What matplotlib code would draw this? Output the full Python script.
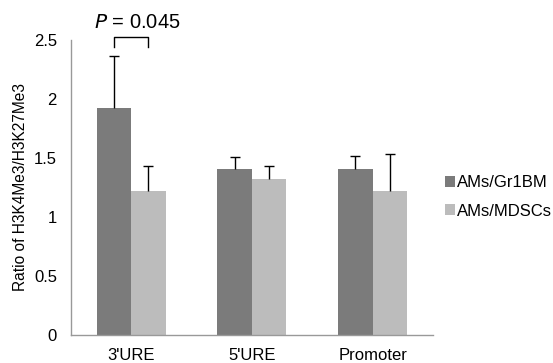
import matplotlib
matplotlib.use("Agg")
import matplotlib.pyplot as plt
import numpy as np

plt.rcParams['font.family'] = ['Liberation Sans', 'DejaVu Sans']

categories = ["3'URE", "5'URE", "Promoter"]
series_names = ["AMs/Gr1BM", "AMs/MDSCs"]
gr1bm = [1.92, 1.41, 1.41]
gr1bm_err = [0.44, 0.10, 0.11]
mdscs = [1.22, 1.32, 1.22]
mdscs_err = [0.21, 0.11, 0.31]
colors = ["#7b7b7b", "#bcbcbc"]

fig = plt.figure(figsize=(5.53, 3.63), dpi=100)
ax = fig.add_axes([0.128, 0.077, 0.655, 0.813])
x = np.arange(len(categories))
w = 0.286

for off, vals, errs, col, name in [(-w/2, gr1bm, gr1bm_err, colors[0], series_names[0]),
                                   (w/2, mdscs, mdscs_err, colors[1], series_names[1])]:
    vals = np.array(vals); errs = np.array(errs)
    ax.bar(x + off, vals, w, color=col, label=name, zorder=2)
    ax.errorbar(x + off, vals, yerr=[np.zeros(3), errs], fmt='none', ecolor='black',
                elinewidth=1.0, capsize=0, zorder=3)
    ax.plot(x + off, vals + errs, linestyle='none', marker='_', markersize=7.5,
            markeredgewidth=1.0, color='black', zorder=3)

ax.set_xlim(-0.5, 2.5)
ax.set_ylim(0, 2.5)
ax.set_yticks([0, 0.5, 1, 1.5, 2, 2.5])
ax.set_yticklabels(['0', '0.5', '1', '1.5', '2', '2.5'])
ax.set_xticks(x)
ax.set_xticklabels(categories)
ax.tick_params(length=0, labelsize=12, pad=10)
ax.tick_params(axis='x', pad=9)
for s in ['top', 'right']:
    ax.spines[s].set_visible(False)
for s in ['left', 'bottom']:
    ax.spines[s].set_color('#999999')
    ax.spines[s].set_linewidth(1.0)
ax.set_ylabel('Ratio of H3K4Me3/H3K27Me3', fontsize=11.2, labelpad=4)

# significance bracket
x1, x2 = x[0] - w/2, x[0] + w/2
ax.plot([x1, x1, x2, x2], [2.44, 2.525, 2.525, 2.44], color='black', lw=1.0, clip_on=False)
ax.text(x[0] + 0.05, 2.57, r'$\it{P}$ = 0.045', ha='center', va='bottom', fontsize=14.5)

ax.legend(loc='center left', bbox_to_anchor=(1.0, 0.468), frameon=False, fontsize=12,
          handlelength=0.6, handleheight=0.6, handletextpad=0.15, labelspacing=0.8,
          borderaxespad=0.3)

fig.savefig('out.png', dpi=100)
